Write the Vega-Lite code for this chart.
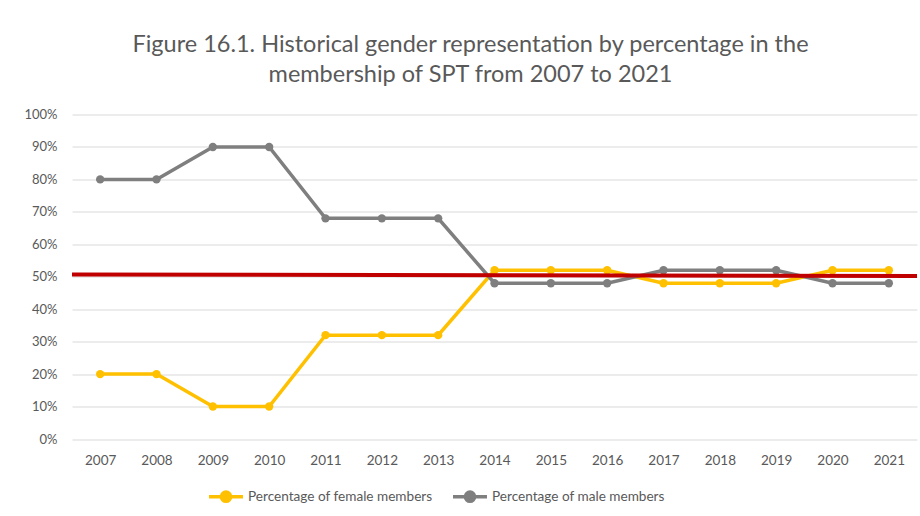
{
  "$schema": "https://vega.github.io/schema/vega-lite/v6.json",
  "autosize": {"type": "none"},
  "width": 845,
  "height": 324.5,
  "padding": {"left": 72, "top": 114.5, "right": 3, "bottom": 77},
  "background": "white",
  "title": {
    "text": ["Figure 16.1. Historical gender representation by percentage in the", "membership of SPT from 2007 to 2021"],
    "anchor": "middle",
    "dx": -24,
    "offset": 22,
    "font": "Lato",
    "fontSize": 23.5,
    "fontWeight": "normal",
    "color": "#595959",
    "lineHeight": 30
  },
  "config": {
    "view": {"stroke": null},
    "font": "Lato",
    "axis": {"labelFont": "Lato", "labelColor": "#595959", "labelFontSize": 13, "ticks": false, "domain": false, "title": null},
    "legend": {"labelFont": "Lato", "labelColor": "#595959", "labelFontSize": 13.6}
  },
  "datasets": {
    "series": [
      {"year": "2007", "series": "Percentage of female members", "value": 0.20},
      {"year": "2008", "series": "Percentage of female members", "value": 0.20},
      {"year": "2009", "series": "Percentage of female members", "value": 0.10},
      {"year": "2010", "series": "Percentage of female members", "value": 0.10},
      {"year": "2011", "series": "Percentage of female members", "value": 0.32},
      {"year": "2012", "series": "Percentage of female members", "value": 0.32},
      {"year": "2013", "series": "Percentage of female members", "value": 0.32},
      {"year": "2014", "series": "Percentage of female members", "value": 0.52},
      {"year": "2015", "series": "Percentage of female members", "value": 0.52},
      {"year": "2016", "series": "Percentage of female members", "value": 0.52},
      {"year": "2017", "series": "Percentage of female members", "value": 0.48},
      {"year": "2018", "series": "Percentage of female members", "value": 0.48},
      {"year": "2019", "series": "Percentage of female members", "value": 0.48},
      {"year": "2020", "series": "Percentage of female members", "value": 0.52},
      {"year": "2021", "series": "Percentage of female members", "value": 0.52},
      {"year": "2007", "series": "Percentage of male members", "value": 0.80},
      {"year": "2008", "series": "Percentage of male members", "value": 0.80},
      {"year": "2009", "series": "Percentage of male members", "value": 0.90},
      {"year": "2010", "series": "Percentage of male members", "value": 0.90},
      {"year": "2011", "series": "Percentage of male members", "value": 0.68},
      {"year": "2012", "series": "Percentage of male members", "value": 0.68},
      {"year": "2013", "series": "Percentage of male members", "value": 0.68},
      {"year": "2014", "series": "Percentage of male members", "value": 0.48},
      {"year": "2015", "series": "Percentage of male members", "value": 0.48},
      {"year": "2016", "series": "Percentage of male members", "value": 0.48},
      {"year": "2017", "series": "Percentage of male members", "value": 0.52},
      {"year": "2018", "series": "Percentage of male members", "value": 0.52},
      {"year": "2019", "series": "Percentage of male members", "value": 0.52},
      {"year": "2020", "series": "Percentage of male members", "value": 0.48},
      {"year": "2021", "series": "Percentage of male members", "value": 0.48}
    ],
    "reference": [
      {"pos": 0, "value": 0.507},
      {"pos": 1, "value": 0.502}
    ]
  },
  "layer": [
    {
      "data": {"name": "series"},
      "mark": {"type": "line", "strokeWidth": 3.5, "point": {"size": 70, "filled": true}},
      "encoding": {
        "x": {"field": "year", "type": "ordinal", "scale": {"type": "point", "padding": 0.5},
              "axis": {"labelAngle": 0, "grid": false, "labelPadding": 14, "labelFontSize": 13.5}},
        "y": {"field": "value", "type": "quantitative", "scale": {"domain": [0, 1]},
              "axis": {"format": "%", "values": [0,0.1,0.2,0.3,0.4,0.5,0.6,0.7,0.8,0.9,1], "tickCount": 30, "labelOverlap": false, "gridColor": "#D9D9D9", "gridWidth": 1, "labelPadding": 15}},
        "color": {"field": "series", "type": "nominal",
                  "scale": {"domain": ["Percentage of female members", "Percentage of male members"], "range": ["#FFC000", "#7F7F7F"]},
                  "legend": {"title": null, "orient": "none", "direction": "horizontal", "legendX": 135, "legendY": 363,
                             "symbolType": "M-1,0H1M-0.27,0A0.27,0.27 0 1,0 0.27,0A0.27,0.27 0 1,0 -0.27,0Z",
                             "symbolSize": 1156, "symbolStrokeWidth": 3.5, "labelOffset": 3, "columnPadding": 13, "labelLimit": 400,
                             "encode": {"symbols": {"update": {"fill": {"scale": "color", "field": "value"}, "fillOpacity": {"value": 1}}}}}},
        "order": {"field": "series"}
      }
    },
    {
      "data": {"name": "reference"},
      "mark": {"type": "line", "color": "#C00000", "strokeWidth": 4},
      "encoding": {
        "x": {"field": "pos", "type": "quantitative", "scale": {"domain": [0, 1], "nice": false}, "axis": null},
        "y": {"field": "value", "type": "quantitative", "axis": {"format": "%", "values": [0,0.1,0.2,0.3,0.4,0.5,0.6,0.7,0.8,0.9,1], "tickCount": 30, "labelOverlap": false, "gridColor": "#D9D9D9", "gridWidth": 1, "labelPadding": 15}}
      }
    }
  ],
  "resolve": {"scale": {"x": "independent"}, "axis": {"x": "independent"}}
}
